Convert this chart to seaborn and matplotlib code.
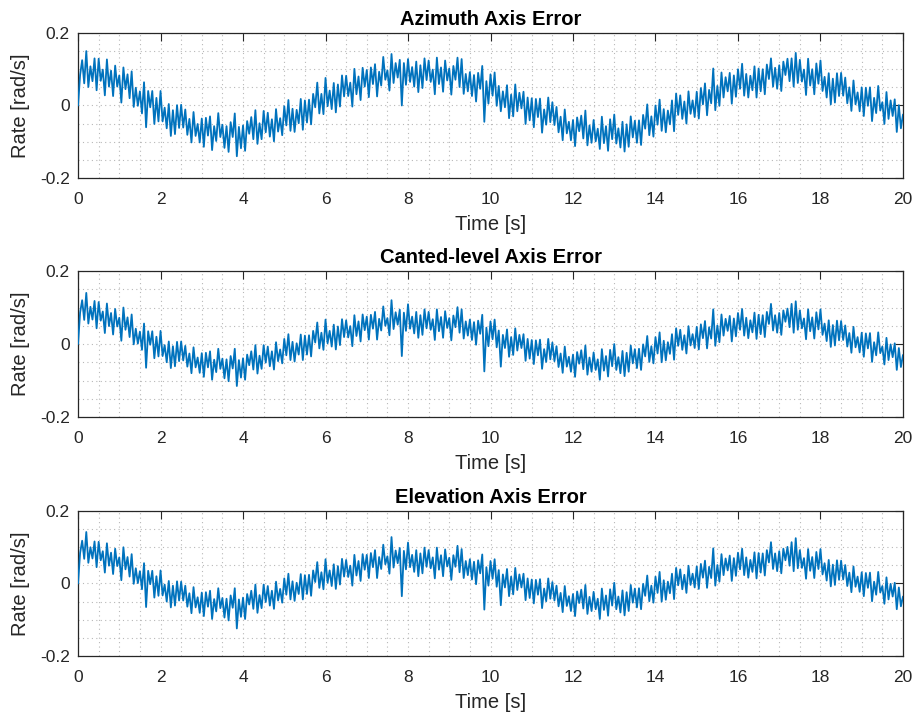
import numpy as np
import pandas as pd
import matplotlib
matplotlib.use("Agg")
import matplotlib.pyplot as plt
import seaborn as sns
from matplotlib.ticker import MultipleLocator

sns.set_theme(style="white")
plt.rcParams['font.family'] = ['Liberation Sans', 'DejaVu Sans']
plt.rcParams['axes.unicode_minus'] = False

# sample step of the recorded signals [s]
dt = 0.05

# rate error samples in mrad/s, every 0.05 s (t = 0 .. 20 s)
azimuth_mrad = [
    0, 84, 125, 61, 150, 51, 108, 67, 130, 42,
    129, 68, 99, 28, 127, 52, 96, 26, 110, 52,
    83, 8, 105, 45, 86, 20, 94, -4, 49, -1,
    39, -22, 64, -60, 40, -5, 40, -51, 21, -44,
    40, -44, -6, -63, 4, -84, -13, -79, 1, -62,
    2, -61, -11, -81, -37, -102, -18, -84, -51, -102,
    -36, -114, -34, -83, -30, -123, -57, -98, -21, -87,
    -53, -117, -57, -128, -46, -87, -22, -140, -59, -118,
    -55, -125, -43, -78, -32, -93, -13, -106, -49, -93,
    -15, -74, -20, -86, -38, -99, -10, -72, -35, -82,
    -2, -55, 15, -70, -9, -73, -12, -49, 18, -67,
    14, -47, 16, -52, 32, -5, 63, -22, 32, -24,
    76, -2, 41, -10, 62, -19, 58, -3, 83, 25,
    82, 26, 63, -3, 101, 31, 80, 15, 104, 52,
    98, 23, 105, 59, 114, 25, 93, 55, 134, 71,
    97, 41, 142, 62, 117, 77, 126, 0, 117, 57,
    128, 65, 106, 52, 121, 37, 111, 48, 130, 70,
    124, 65, 99, 31, 132, 59, 105, 38, 124, 69,
    102, 30, 109, 71, 132, 51, 128, 32, 87, 39,
    92, 26, 84, 11, 90, 46, 109, -45, 67, 5,
    86, 27, 91, -1, 54, -16, 39, -5, 56, -35,
    30, -30, 58, -16, 35, -8, 38, -51, 22, -41,
    20, -60, 18, -32, 19, -75, -11, -53, 22, -46,
    9, -54, -4, -74, -31, -96, -11, -77, -45, -96,
    -40, -112, -33, -71, -28, -91, -14, -110, -55, -103,
    -40, -99, -64, -120, -31, -104, -57, -125, -38, -93,
    -25, -105, -63, -116, -45, -127, -52, -114, -30, -88,
    -42, -103, -41, -109, -26, -64, 3, -82, -30, -86,
    0, -53, 16, -70, -10, -74, -14, -52, 14, -71,
    33, -26, 28, -37, 11, -50, 39, -23, 14, -32,
    38, -36, 48, 3, 61, -27, 43, 6, 102, -13,
    54, -1, 91, 22, 78, 39, 90, 5, 83, 24,
    100, 46, 115, 27, 87, 22, 82, 42, 108, 22,
    102, 39, 100, 31, 113, 73, 130, 52, 104, 46,
    111, 40, 121, 84, 129, 67, 130, 52, 145, 62,
    126, 66, 99, 29, 129, 55, 100, 31, 116, 60,
    124, 40, 79, 22, 89, 3, 74, 8, 89, 26,
    90, 27, 77, 6, 50, -15, 69, 3, 36, -16,
    50, -29, 49, -1, 50, -43, 21, -21, 54, -14,
    9, -51, 37, -37, 14, -29, 17, -73, 1, -63,
    -25,
]

canted_mrad = [
    0, 86, 120, 66, 140, 56, 102, 67, 118, 43,
    115, 64, 89, 30, 111, 49, 85, 26, 96, 48,
    72, 9, 100, 39, 73, 19, 81, -1, 42, 1,
    34, -16, 56, -65, 35, -2, 35, -39, 20, -34,
    36, -33, -3, -50, 7, -66, -6, -61, 6, -47,
    7, -45, -5, -62, -26, -80, -9, -64, -37, -79,
    -25, -90, -24, -64, -20, -98, -43, -77, -13, -68,
    -40, -94, -42, -102, -33, -67, -13, -115, -44, -92,
    -39, -98, -29, -58, -20, -70, -3, -81, -32, -68,
    -3, -51, -7, -61, -20, -70, 5, -47, -15, -53,
    14, -31, 27, -44, 6, -48, 2, -29, 26, -44,
    23, -29, 24, -34, 36, 4, 59, -12, 31, -16,
    67, 2, 36, -7, 53, -15, 48, -3, 68, 19,
    65, 18, 49, -6, 79, 22, 62, 7, 81, 38,
    75, 12, 80, 42, 88, 12, 69, 37, 103, 50,
    71, 24, 120, 41, 87, 53, 94, -33, 86, 36,
    109, 42, 75, 29, 88, 17, 79, 25, 95, 43,
    88, 39, 68, 11, 95, 35, 74, 17, 90, 44,
    71, 10, 78, 46, 101, 31, 95, 15, 62, 23,
    67, 11, 60, -2, 64, 28, 80, -75, 45, -6,
    62, 13, 67, -9, 37, -62, 25, -11, 40, -35,
    19, -30, 43, -18, 25, -11, 27, -46, 14, -40,
    11, -55, 10, -31, 12, -68, -14, -49, 14, -42,
    4, -47, -6, -63, -26, -79, -7, -62, -35, -76,
    -29, -90, -22, -54, -17, -69, -4, -84, -37, -76,
    -23, -71, -42, -98, -14, -73, -33, -89, -16, -61,
    0, -71, -36, -80, -19, -88, -24, -76, -4, -53,
    -14, -66, -13, -71, -1, -34, 22, -49, -6, -53,
    19, -26, 32, -50, 9, -45, 5, -27, 27, -43,
    43, -5, 39, -16, 24, -26, 49, -4, 27, -11,
    47, -15, 54, 16, 63, -12, 46, 15, 95, -5,
    51, 5, 81, 23, 69, 36, 77, 7, 70, 21,
    85, 39, 96, 23, 72, 16, 65, 32, 86, 14,
    80, 27, 79, 19, 88, 55, 110, 37, 79, 31,
    85, 25, 92, 61, 97, 46, 110, 31, 117, 39,
    92, 43, 70, 13, 95, 35, 73, 15, 87, 40,
    95, 25, 56, 8, 65, -8, 52, -4, 64, 10,
    63, 11, 51, -7, 30, -24, 47, -9, 19, -23,
    31, -35, 29, -12, 30, -49, 5, -31, 32, -25,
    -7, -56, 17, -44, -1, -36, 2, -71, -11, -63,
    -30,
]

elevation_mrad = [
    0, 84, 118, 68, 142, 57, 100, 69, 116, 45,
    115, 64, 89, 30, 111, 49, 85, 26, 96, 48,
    72, 9, 100, 39, 73, 19, 81, -1, 42, 1,
    34, -16, 56, -65, 35, -2, 35, -39, 20, -34,
    36, -33, -3, -50, 7, -66, -6, -61, 6, -47,
    5, -47, -6, -64, -27, -82, -10, -66, -38, -81,
    -25, -90, -24, -64, -20, -98, -43, -77, -13, -68,
    -40, -94, -42, -102, -33, -67, -13, -124, -44, -92,
    -39, -98, -29, -58, -20, -70, -3, -81, -32, -68,
    -3, -51, -7, -61, -20, -70, 5, -47, -15, -53,
    14, -31, 27, -44, 6, -48, 2, -29, 26, -44,
    23, -29, 24, -34, 36, 4, 59, -12, 31, -16,
    67, 2, 36, -7, 53, -15, 48, -3, 68, 19,
    65, 18, 49, -6, 79, 22, 62, 7, 81, 38,
    79, 15, 84, 45, 92, 15, 73, 40, 107, 53,
    75, 27, 128, 44, 91, 56, 98, -35, 90, 39,
    113, 45, 79, 32, 92, 20, 83, 28, 99, 46,
    92, 42, 72, 14, 99, 38, 78, 20, 94, 47,
    71, 10, 78, 46, 104, 31, 95, 15, 62, 23,
    67, 11, 60, -2, 64, 28, 80, -72, 45, -6,
    62, 13, 67, -9, 37, -60, 25, -11, 40, -35,
    19, -30, 43, -18, 25, -11, 27, -46, 14, -40,
    11, -55, 10, -31, 12, -68, -14, -49, 14, -42,
    4, -47, -6, -63, -26, -79, -7, -62, -35, -76,
    -29, -90, -22, -54, -17, -69, -4, -84, -37, -76,
    -23, -71, -42, -98, -14, -73, -33, -89, -16, -61,
    2, -71, -36, -80, -19, -88, -24, -76, -4, -53,
    -14, -66, -13, -71, -1, -34, 22, -49, -6, -53,
    19, -26, 32, -50, 9, -45, 5, -27, 27, -43,
    43, -5, 39, -16, 24, -26, 49, -4, 27, -11,
    47, -15, 54, 16, 63, -12, 46, 15, 97, -6,
    51, 5, 81, 23, 69, 36, 77, 7, 70, 21,
    85, 39, 96, 23, 72, 16, 65, 32, 86, 14,
    84, 30, 83, 22, 92, 58, 114, 40, 83, 34,
    89, 28, 96, 64, 101, 49, 114, 34, 125, 42,
    92, 43, 70, 13, 95, 35, 73, 15, 87, 40,
    95, 25, 56, 8, 65, -8, 52, -4, 64, 10,
    63, 11, 51, -7, 30, -24, 47, -9, 19, -23,
    31, -35, 29, -12, 30, -49, 5, -31, 32, -25,
    -7, -56, 17, -44, -1, -36, 2, -71, -11, -63,
    -36,
]

titles = ["Azimuth Axis Error", "Canted-level Axis Error", "Elevation Axis Error"]
series = [azimuth_mrad, canted_mrad, elevation_mrad]
x_ticks = [0, 2, 4, 6, 8, 10, 12, 14, 16, 18, 20]
y_ticks = [-0.2, 0, 0.2]
y_tick_labels = ["-0.2", "0", "0.2"]
xlabel = "Time [s]"
ylabel = "Rate [rad/s]"

line_color = "#0072BD"
axis_color = "#262626"

fig = plt.figure(figsize=(9.17, 7.2), dpi=100)
fig.patch.set_facecolor("white")

positions = [
    [0.0851, 0.7528, 0.8996, 0.2014],
    [0.0851, 0.4208, 0.8996, 0.2028],
    [0.0851, 0.0889, 0.8996, 0.2014],
]

for pos, title, vals in zip(positions, titles, series):
    ax = fig.add_axes(pos)
    n = len(vals)
    df = pd.DataFrame({"t": np.arange(n) * dt, "rate": np.array(vals) / 1000.0})
    sns.lineplot(data=df, x="t", y="rate", ax=ax, color=line_color,
                 linewidth=1.3, estimator=None, sort=False, zorder=3)
    ax.set_xlim(0, 20)
    ax.set_ylim(-0.2, 0.2)
    ax.set_xticks(x_ticks)
    ax.set_xticklabels([str(v) for v in x_ticks])
    ax.set_yticks(y_ticks)
    ax.set_yticklabels(y_tick_labels)
    ax.xaxis.set_minor_locator(MultipleLocator(0.5))
    ax.yaxis.set_minor_locator(MultipleLocator(0.05))
    ax.grid(which="both", axis="both", color="#b8b8b8", linestyle=(0, (1, 3)),
            linewidth=0.8, zorder=0)
    ax.set_axisbelow(True)
    ax.tick_params(which="major", direction="in", length=6, width=0.8,
                   top=True, right=True, colors=axis_color, labelsize=12.5,
                   labelcolor=axis_color)
    ax.tick_params(axis="x", which="major", pad=10)
    ax.tick_params(axis="y", which="major", pad=6)
    ax.tick_params(which="minor", length=0)
    for s in ax.spines.values():
        s.set_color(axis_color)
        s.set_linewidth(0.9)
        s.set_visible(True)
    ax.set_title(title, fontsize=14.5, fontweight="bold", color="black", pad=6)
    ax.set_xlabel(xlabel, fontsize=14.5, color=axis_color, labelpad=6)
    ax.set_ylabel(ylabel, fontsize=14.5, color=axis_color, labelpad=7)
    ax.set_facecolor("white")

fig.savefig("out.png", dpi=100, facecolor="white")
